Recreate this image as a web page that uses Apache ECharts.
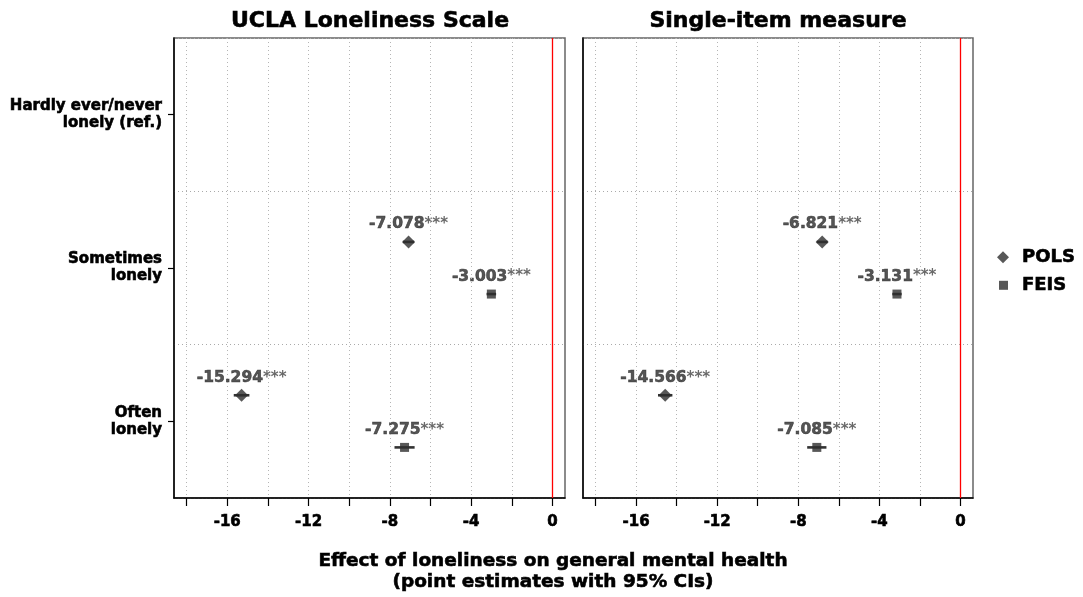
<!DOCTYPE html>
<html><head><meta charset="utf-8">
<script src="https://cdn.jsdelivr.net/npm/echarts@6/dist/echarts.min.js"></script>
<style>html,body{margin:0;padding:0;background:#fff}#c{width:1083px;height:597px}</style>
</head><body><div id="c"></div>
<script>
// ---------- data ----------
const categories = ['Hardly ever/never\nlonely (ref.)', 'Sometimes\nlonely', 'Often\nlonely'];
const panelTitles = ['UCLA Loneliness Scale', 'Single-item measure'];
const seriesNames = ['POLS', 'FEIS'];
const significance = ['', '***', '***'];

const uclaPOLS   = [null, -7.078, -15.294];
const uclaPOLSlo = [null, -7.36, -15.68];
const uclaPOLShi = [null, -6.80, -14.91];
const uclaFEIS   = [null, -3.003, -7.275];
const uclaFEISlo = [null, -3.24, -7.77];
const uclaFEIShi = [null, -2.77, -6.78];

const singlePOLS   = [null, -6.821, -14.566];
const singlePOLSlo = [null, -7.09, -14.92];
const singlePOLShi = [null, -6.55, -14.21];
const singleFEIS   = [null, -3.131, -7.085];
const singleFEISlo = [null, -3.36, -7.56];
const singleFEIShi = [null, -2.90, -6.61];

const xTickValues  = [-18, -16, -14, -12, -10, -8, -6, -4, -2, 0];
const xLabelValues = [-16, -12, -8, -4, 0];
const xTitle = 'Effect of loneliness on general mental health\n(point estimates with 95% CIs)';

// ---------- styling / layout ----------
const FONT = 'DejaVu Sans';
const HEAVY = { textBorderColor: '#000', textBorderWidth: 0.6 };
const DODGE = { POLS: -0.17, FEIS: 0.17 };
const panelsData = [
  { POLS: [uclaPOLS, uclaPOLSlo, uclaPOLShi], FEIS: [uclaFEIS, uclaFEISlo, uclaFEIShi] },
  { POLS: [singlePOLS, singlePOLSlo, singlePOLShi], FEIS: [singleFEIS, singleFEISlo, singleFEIShi] }
];
const grids = [
  { left: 174, top: 38, width: 391, height: 460, outerBoundsMode: 'none', show: true, borderColor: '#666', borderWidth: 1.5 },
  { left: 583, top: 38, width: 390, height: 460, outerBoundsMode: 'none', show: true, borderColor: '#666', borderWidth: 1.5 }
];

function pts(name, arr) {
  const out = [];
  arr[0].forEach((v, i) => { if (v != null) out.push({ value: [v, i + 1 + DODGE[name]], sig: significance[i] }); });
  return out;
}
function cis(name, arr) {
  const out = [];
  arr[0].forEach((v, i) => { if (v != null) out.push([arr[1][i], arr[2][i], i + 1 + DODGE[name]]); });
  return out;
}

const xAxes = [], yAxes = [], series = [];
[0, 1].forEach(p => {
  xAxes.push({
    gridIndex: p, type: 'value', min: -18.62, max: 0.62,
    axisLine: { show: true, onZero: false, lineStyle: { color: '#000', width: 1.5 } },
    axisTick: { show: true, customValues: xTickValues, length: 8, lineStyle: { color: '#000', width: 1.2 } },
    axisLabel: Object.assign({ show: true, customValues: xLabelValues, margin: 17, fontFamily: FONT, fontWeight: 'bold', fontSize: 15, color: '#000' }, HEAVY),
    splitLine: { show: false }
  });
  yAxes.push({
    gridIndex: p, type: 'category', data: categories, inverse: true, boundaryGap: true, position: 'left',
    axisLine: { show: true, onZero: false, lineStyle: { color: '#000', width: 1.5 } },
    axisTick: { show: p === 0, alignWithLabel: true, length: 6, lineStyle: { color: '#000', width: 1.2 } },
    axisLabel: Object.assign({ show: p === 0, margin: 12, fontFamily: FONT, fontWeight: 'bold', fontSize: 15, lineHeight: 17, color: '#000', align: 'right' }, HEAVY),
    splitLine: { show: true, lineStyle: { color: '#aaa', type: [1, 3], width: 1 } }
  });
  yAxes.push({ gridIndex: p, type: 'value', min: 0.5, max: 3.5, inverse: true, show: false, position: 'right', splitLine: { show: false } });

  const yIdx = 2 * p + 1;
  // reference grid lines and zero line
  series.push({
    type: 'line', name: 'ref' + p, xAxisIndex: p, yAxisIndex: yIdx, data: [], silent: true,
    markLine: {
      silent: true, symbol: 'none', label: { show: false }, animation: false,
      data: xTickValues.map(v => v === 0
        ? { xAxis: v, lineStyle: { color: '#ff0000', type: 'solid', width: 1.3 } }
        : { xAxis: v, lineStyle: { color: '#b5b5b5', type: [1, 3], width: 1 } })
    }
  });
  seriesNames.forEach(name => {
    const arr = panelsData[p][name];
    series.push({
      type: 'custom', name: name + ' CI', xAxisIndex: p, yAxisIndex: yIdx, data: cis(name, arr),
      encode: { x: [0, 1], y: 2 }, silent: true, z: 3,
      renderItem: (params, api) => {
        const a = api.coord([api.value(0), api.value(2)]);
        const b = api.coord([api.value(1), api.value(2)]);
        return { type: 'line', shape: { x1: a[0], y1: a[1], x2: b[0], y2: b[1] }, style: { stroke: '#333', lineWidth: 2.6 } };
      }
    });
    series.push({
      type: 'scatter', name: name, xAxisIndex: p, yAxisIndex: yIdx, data: pts(name, arr), z: 4,
      symbol: name === 'POLS' ? 'diamond' : 'rect', symbolSize: name === 'POLS' ? 13 : 9,
      itemStyle: { color: '#2e2e2e' },
      label: {
        show: true, position: 'top', distance: name === 'POLS' ? 3 : 5,
        formatter: prm => '{n|' + prm.value[0].toFixed(3) + '}{s|' + prm.data.sig + '}',
        rich: {
          n: { fontFamily: FONT, fontWeight: 'bold', fontSize: 15.5, color: '#2b2b2b', textBorderColor: '#2b2b2b', textBorderWidth: 0.6 },
          s: { fontFamily: FONT, fontWeight: 'bold', fontSize: 15, color: '#444' }
        }
      }
    });
  });
});

const option = {
  backgroundColor: '#fff',
  animation: false,
  grid: grids,
  xAxis: xAxes,
  yAxis: yAxes,
  title: [
    { text: panelTitles[0], left: 365, top: 5, textAlign: 'center', textStyle: Object.assign({ fontFamily: FONT, fontWeight: 'bold', fontSize: 22, color: '#000' }, HEAVY) },
    { text: panelTitles[1], left: 773, top: 5, textAlign: 'center', textStyle: Object.assign({ fontFamily: FONT, fontWeight: 'bold', fontSize: 22, color: '#000' }, HEAVY) },
    { text: xTitle, left: 548, top: 546, textAlign: 'center', textStyle: Object.assign({ fontFamily: FONT, fontWeight: 'bold', fontSize: 18.5, lineHeight: 21, color: '#000' }, HEAVY) }
  ],
  legend: [
    { data: [{ name: 'POLS', icon: 'diamond' }], orient: 'vertical', left: 997, top: 248, padding: 0, itemWidth: 12, itemHeight: 12, selectedMode: false,
      textStyle: Object.assign({ fontFamily: FONT, fontWeight: 'bold', fontSize: 18, color: '#000', padding: [0, 0, 0, 8] }, HEAVY) },
    { data: [{ name: 'FEIS', icon: 'rect' }], orient: 'vertical', left: 999, top: 276, padding: 0, itemWidth: 9, itemHeight: 9, selectedMode: false,
      textStyle: Object.assign({ fontFamily: FONT, fontWeight: 'bold', fontSize: 18, color: '#000', padding: [0, 0, 0, 9] }, HEAVY) }
  ],
  series: series
};
const chart = echarts.init(document.getElementById('c'), null, { renderer: 'canvas' });
chart.setOption(option);
</script>
</body></html>
